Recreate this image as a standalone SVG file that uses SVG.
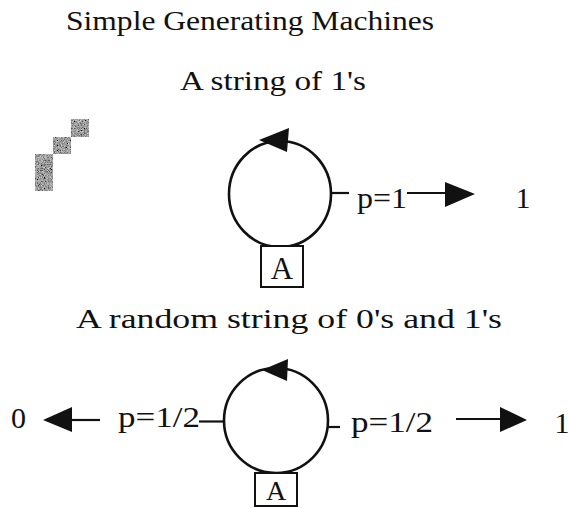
<svg xmlns="http://www.w3.org/2000/svg" width="569" height="508" viewBox="0 0 569 508">
<style>
text{font-family:"Liberation Serif","DejaVu Serif",serif;fill:#111}
.t{font-size:27px}
.l{font-size:30px}
.a{font-size:31px}
.st{fill:none;stroke:#111;stroke-width:2.6}
.ln{stroke:#111;stroke-width:2.2;fill:none}
.ah{fill:#111}
.bx{fill:#fff;stroke:#111;stroke-width:2}
</style>
<defs>
<filter id="gray" x="0" y="0" width="100%" height="100%">
<feTurbulence type="fractalNoise" baseFrequency="1.3" numOctaves="1" seed="5" result="n"/>
<feColorMatrix in="n" type="matrix" values="0.33 0.33 0.33 0 0  0.33 0.33 0.33 0 0  0.33 0.33 0.33 0 0  0 0 0 0 1" result="g"/>
<feComponentTransfer in="g"><feFuncR type="linear" slope="2.2" intercept="-0.75"/><feFuncG type="linear" slope="2.2" intercept="-0.75"/><feFuncB type="linear" slope="2.2" intercept="-0.75"/><feFuncA type="linear" slope="0" intercept="1"/></feComponentTransfer>
</filter>
</defs>
<rect width="569" height="508" fill="#fff"/>
<g id="titles">
<text class="t" x="66" y="30" textLength="368" lengthAdjust="spacingAndGlyphs">Simple Generating Machines</text>
<text class="t" x="180" y="90" textLength="186" lengthAdjust="spacingAndGlyphs">A string of 1's</text>
<text class="t" x="76" y="328" textLength="426" lengthAdjust="spacingAndGlyphs">A random string of 0's and 1's</text>
</g>
<g id="speckle">
<rect x="71" y="119" width="18" height="18" filter="url(#gray)"/>
<rect x="53" y="137" width="18" height="17" filter="url(#gray)"/>
<rect x="35" y="154" width="18" height="37" filter="url(#gray)"/>
</g>
<g id="machine1">
<ellipse class="st" cx="280" cy="194" rx="51" ry="53"/>
<polygon class="ah" points="259,140 289,128 287,152"/>
<rect class="bx" x="261" y="246" width="42" height="41"/>
<text class="a" x="282" y="279" text-anchor="middle">A</text>
</g>
<g id="machine2">
<ellipse class="st" cx="276" cy="420.5" rx="52" ry="52.5"/>
<polygon class="ah" points="262,370 288,359 287,381"/>
<rect class="bx" x="255" y="473" width="42" height="33"/>
<text x="276" y="500" text-anchor="middle" font-size="28">A</text>
</g>
<g id="outputs">
<text class="l" x="523" y="208" text-anchor="middle">1</text>
<text class="l" x="18.5" y="428" text-anchor="middle">0</text>
<text class="l" x="562" y="433" text-anchor="middle">1</text>
</g>
<g id="connectors">
<line class="ln" x1="331" y1="193" x2="349" y2="193"/>
<text class="l" x="357" y="208" textLength="50" lengthAdjust="spacingAndGlyphs">p=1</text>
<line class="ln" x1="407" y1="193" x2="446" y2="193"/>
<polygon class="ah" points="445,182 475,194 445,207"/>
<polygon class="ah" points="43,420 72,407 72,432"/>
<line class="ln" x1="71" y1="420" x2="100" y2="420"/>
<text class="l" x="118" y="427" textLength="82" lengthAdjust="spacingAndGlyphs">p=1/2</text>
<line class="ln" x1="199" y1="421.5" x2="224" y2="421.5"/>
<line class="ln" x1="328" y1="427" x2="340" y2="427"/>
<text class="l" x="351" y="432" textLength="82" lengthAdjust="spacingAndGlyphs">p=1/2</text>
<line class="ln" x1="456" y1="419" x2="501" y2="419"/>
<polygon class="ah" points="500,407 527,420 500,432"/>
</g>
</svg>
